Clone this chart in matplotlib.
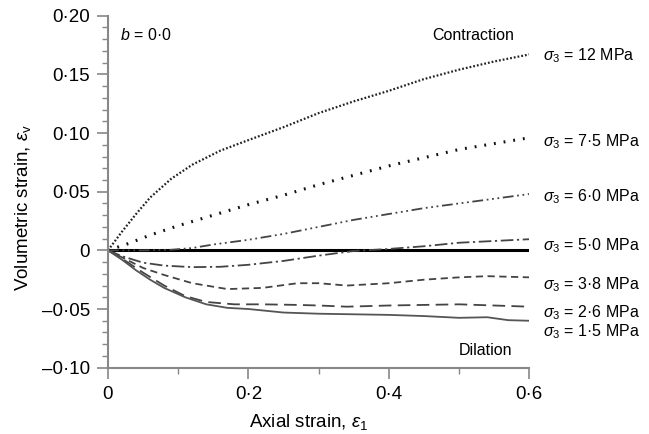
import numpy as np
import matplotlib.pyplot as plt
from matplotlib.ticker import MultipleLocator, FuncFormatter

plt.rcParams['font.family'] = ['Liberation Sans', 'DejaVu Sans']
plt.rcParams['mathtext.fontset'] = 'custom'
plt.rcParams['mathtext.rm'] = 'Liberation Sans'
plt.rcParams['mathtext.it'] = 'Liberation Sans:italic'

# volumetric strain vs axial strain, one curve per confining pressure
x_12 = [0, 0.02, 0.04, 0.06, 0.09, 0.12, 0.16, 0.2, 0.25, 0.3, 0.35, 0.4, 0.45, 0.5, 0.55, 0.6]
y_12 = [0, 0.016, 0.031, 0.045, 0.061, 0.073, 0.085, 0.094, 0.105, 0.117, 0.127, 0.136, 0.146, 0.154, 0.161, 0.167]

x_75 = [0, 0.03, 0.06, 0.1, 0.15, 0.2, 0.25, 0.3, 0.35, 0.4, 0.45, 0.5, 0.55, 0.6]
y_75 = [0, 0.006, 0.013, 0.021, 0.030, 0.039, 0.047, 0.056, 0.064, 0.072, 0.079, 0.086, 0.091, 0.096]

x_60 = [0, 0.05, 0.09, 0.12, 0.15, 0.2, 0.25, 0.3, 0.35, 0.4, 0.45, 0.5, 0.55, 0.6]
y_60 = [0, 0.0, 0.0005, 0.002, 0.005, 0.009, 0.014, 0.020, 0.026, 0.031, 0.036, 0.040, 0.044, 0.048]

x_50 = [0, 0.02, 0.05, 0.08, 0.12, 0.16, 0.2, 0.25, 0.3, 0.35, 0.4, 0.45, 0.5, 0.55, 0.6]
y_50 = [0, -0.005, -0.0105, -0.013, -0.0143, -0.014, -0.0123, -0.009, -0.0045, -0.0005, 0.0012, 0.0035, 0.0065, 0.008, 0.0095]

x_38 = [0, 0.02, 0.05, 0.08, 0.12, 0.17, 0.22, 0.27, 0.3, 0.34, 0.4, 0.45, 0.5, 0.54, 0.6]
y_38 = [0, -0.006, -0.015, -0.021, -0.028, -0.033, -0.032, -0.028, -0.028, -0.030, -0.028, -0.025, -0.023, -0.022, -0.023]

x_26 = [0, 0.02, 0.05, 0.08, 0.11, 0.14, 0.18, 0.22, 0.27, 0.3, 0.34, 0.4, 0.45, 0.5, 0.55, 0.6]
y_26 = [0, -0.007, -0.019, -0.030, -0.039, -0.044, -0.046, -0.046, -0.0465, -0.047, -0.048, -0.047, -0.0465, -0.046, -0.047, -0.048]

x_15 = [0, 0.02, 0.04, 0.06, 0.08, 0.11, 0.14, 0.17, 0.2, 0.25, 0.3, 0.35, 0.4, 0.45, 0.5, 0.54, 0.57, 0.6]
y_15 = [0, -0.008, -0.017, -0.025, -0.032, -0.040, -0.046, -0.049, -0.050, -0.053, -0.054, -0.0545, -0.055, -0.056, -0.0575, -0.057, -0.0595, -0.060]

zero_x = [0, 0.6]
zero_y = [0, 0]

labels = ['12', '7·5', '6·0', '5·0', '3·8', '2·6', '1·5']
label_y = [0.166, 0.0924, 0.0454, 0.0041, -0.0293, -0.0531, -0.0692]

fig = plt.figure(figsize=(6.49, 4.34), dpi=100)
ax = fig.add_axes([0.1664, 0.1528, 0.8156 - 0.1664, 0.9638 - 0.1528])

ax.plot(zero_x, zero_y, color='black', lw=2.2, solid_capstyle='butt')
ax.plot(x_12, y_12, color='#222222', lw=1.6, ls=(0, (0.8, 0.9)))
ax.plot(x_75, y_75, color='#111111', lw=2.2, ls=(0, (0.6, 2.6)))
ax.plot(x_60, y_60, color='#444444', lw=1.3, ls=(0, (6, 2, 1, 2, 1, 2, 1, 2)))
ax.plot(x_50, y_50, color='#444444', lw=1.3, ls=(0, (7, 2, 1.2, 2)))
ax.plot(x_38, y_38, color='#444444', lw=1.3, ls=(0, (4, 2.5)))
ax.plot(x_26, y_26, color='#444444', lw=1.3, ls=(0, (7, 3.5)))
ax.plot(x_15, y_15, color='#555555', lw=1.3)

for lab, yy in zip(labels, label_y):
    ax.text(0.619, yy, r'$\sigma_3$ = ' + lab + ' MPa', fontsize=11.5, va='center', ha='left', clip_on=False)

ax.text(0.52, 0.183, 'Contraction', fontsize=11.5, ha='center', va='center')
ax.text(0.538, -0.0853, 'Dilation', fontsize=11.5, ha='center', va='center')
ax.text(0.017, 0.1838, r'$b$ = 0·0', fontsize=11.5, ha='left', va='center')

ax.set_xlim(0, 0.6)
ax.set_ylim(-0.10, 0.20)
ax.xaxis.set_major_locator(MultipleLocator(0.2))
ax.xaxis.set_minor_locator(MultipleLocator(0.1))
ax.yaxis.set_major_locator(MultipleLocator(0.05))
ax.yaxis.set_minor_locator(MultipleLocator(0.01))


def fmt_x(v, pos):
    if abs(v) < 1e-9:
        return '0'
    return f'{v:.1f}'.replace('.', '·')


def fmt_y(v, pos):
    if abs(v) < 1e-9:
        return '0'
    s = f'{abs(v):.2f}'.replace('.', '·')
    return ('\u2013' if v < 0 else '') + s


ax.xaxis.set_major_formatter(FuncFormatter(fmt_x))
ax.yaxis.set_major_formatter(FuncFormatter(fmt_y))

for side in ['top', 'right']:
    ax.spines[side].set_visible(False)
for side in ['left', 'bottom']:
    ax.spines[side].set_color('#888888')
    ax.spines[side].set_linewidth(1.5)

ax.tick_params(which='major', length=8, width=1.2, color='#888888', labelsize=13.5, pad=5)
ax.tick_params(which='minor', length=4.5, width=1.0, color='#888888')

ax.set_xlabel(r'Axial strain, $\varepsilon_1$', fontsize=13.5)
ax.set_ylabel(r'Volumetric strain, $\varepsilon_\mathrm{v}$', fontsize=13.5)
ax.xaxis.set_label_coords(0.475, -0.125)
ax.yaxis.set_label_coords(-0.178, 0.455)

fig.savefig('out.png', dpi=100)
